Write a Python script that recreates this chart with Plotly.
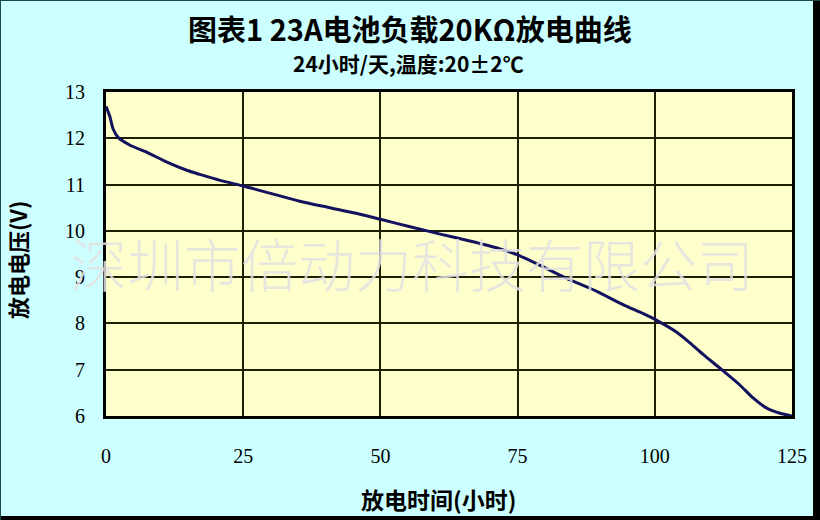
import plotly.graph_objects as go

# Data
hours = [0, 0.7, 1.3, 2.2, 4.4, 7.4, 11, 14.7, 17.1, 20.8, 25, 28.1, 30, 35.3, 40.8,
         46.3, 50, 55.4, 60.9, 66.3, 71.8, 75, 79, 83.6, 88.2, 90, 94.3, 97.9, 100.6,
         104, 106.4, 108.8, 112.2, 115.5, 117.9, 120.4, 122.8, 125]
volts = [12.69, 12.47, 12.20, 12.02, 11.85, 11.70, 11.49, 11.31, 11.22, 11.09, 10.97, 10.87,
         10.81, 10.64, 10.50, 10.36, 10.25, 10.09, 9.93, 9.78, 9.61, 9.48, 9.26, 8.99,
         8.76, 8.66, 8.40, 8.21, 8.05, 7.81, 7.58, 7.33, 7.00, 6.67, 6.39, 6.17, 6.06, 6.0]
x_ticks = [0, 25, 50, 75, 100, 125]
y_ticks = [6, 7, 8, 9, 10, 11, 12, 13]

title = "图表1 23A电池负载20KΩ放电曲线"
subtitle = "24小时/天,温度:20±2℃"
x_title = "放电时间(小时)"
y_title = "放电电压(V)"
watermark = "深圳市倍动力科技有限公司"

W, H = 820, 520
L, R, T, B = 106, 28, 92, 104
pw, ph = W - L - R, H - T - B


def px(x):
    return (x - L) / pw


def py(y):
    return (H - B - y) / ph


fig = go.Figure()
fig.add_trace(go.Scatter(
    x=hours, y=volts, mode="lines",
    line=dict(color="#12125e", width=3, shape="spline", smoothing=0.7),
    hoverinfo="skip", showlegend=False,
))

cjk = "Noto Sans CJK SC"
serif = "Liberation Serif"

fig.update_layout(
    width=W, height=H,
    margin=dict(l=L, r=R, t=T, b=B),
    paper_bgcolor="#ccffff",
    plot_bgcolor="#ffffcc",
    showlegend=False,
    xaxis=dict(
        range=[0, 125], tickvals=x_ticks, ticktext=[str(v) for v in x_ticks],
        showgrid=True, gridcolor="#1e1e00", gridwidth=1.5,
        showline=True, linecolor="black", linewidth=3, mirror=True,
        zeroline=False, ticks="", ticklabelstandoff=20,
        tickfont=dict(family=serif, size=20, color="black"),
    ),
    yaxis=dict(
        range=[6, 13], tickvals=y_ticks, ticktext=[str(v) for v in y_ticks],
        showgrid=True, gridcolor="#1e1e00", gridwidth=1.5,
        showline=True, linecolor="black", linewidth=3, mirror=True,
        zeroline=False, ticks="", ticklabelstandoff=14,
        tickfont=dict(family=serif, size=20, color="black"),
    ),
    annotations=[
        dict(text=title, x=px(410), y=py(28), xref="paper", yref="paper",
             showarrow=False, xanchor="center", yanchor="middle",
             font=dict(family=cjk, size=29, color="black", weight="bold")),
        dict(text=subtitle, x=px(408), y=py(63), xref="paper", yref="paper",
             showarrow=False, xanchor="center", yanchor="middle",
             font=dict(family=cjk, size=21, color="black", weight="bold")),
        dict(text=x_title, x=px(438), y=py(499), xref="paper", yref="paper",
             showarrow=False, xanchor="center", yanchor="middle",
             font=dict(family=cjk, size=23, color="black", weight="bold")),
        dict(text=y_title, x=px(17), y=py(260), xref="paper", yref="paper",
             showarrow=False, xanchor="center", yanchor="middle", textangle=-90,
             font=dict(family=cjk, size=22, color="black", weight="bold")),
        dict(text=watermark, x=px(412), y=py(262), xref="paper", yref="paper",
             showarrow=False, xanchor="center", yanchor="middle",
             font=dict(family=cjk, size=57, color="rgba(226,226,226,0.85)", weight=300)),
    ],
    shapes=[
        dict(type="rect", xref="paper", yref="paper", x0=px(813), x1=px(825),
             y0=py(-5), y1=py(525), fillcolor="black", line=dict(width=0), layer="above"),
        dict(type="rect", xref="paper", yref="paper", x0=px(-5), x1=px(825),
             y0=py(525), y1=py(516), fillcolor="black", line=dict(width=0), layer="above"),
        dict(type="rect", xref="paper", yref="paper", x0=px(-5), x1=px(1),
             y0=py(525), y1=py(-5), fillcolor="#1d4a4a", line=dict(width=0), layer="above"),
        dict(type="rect", xref="paper", yref="paper", x0=px(-5), x1=px(825),
             y0=py(1), y1=py(-5), fillcolor="#1d4a4a", line=dict(width=0), layer="above"),
    ],
)

fig.write_html("out.html", config={"displayModeBar": False},
               post_script="document.body.style.margin='0px';")
